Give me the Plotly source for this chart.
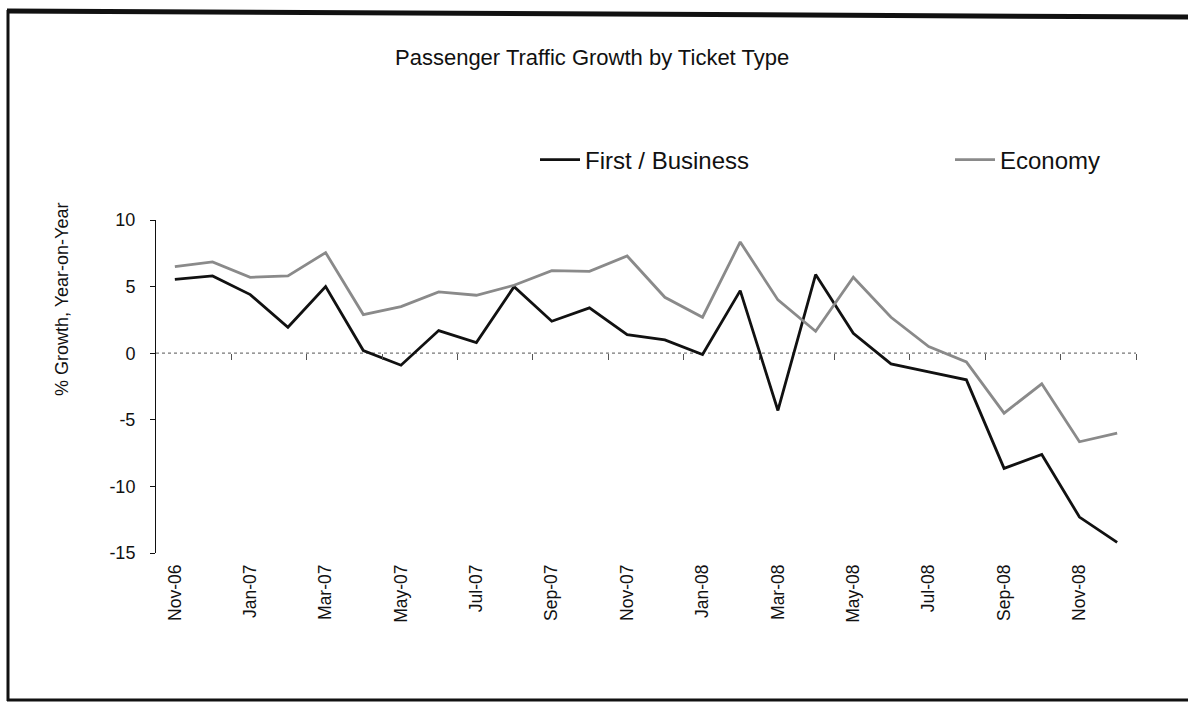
import plotly.graph_objects as go

months = ["Nov-06", "Dec-06", "Jan-07", "Feb-07", "Mar-07", "Apr-07", "May-07", "Jun-07",
          "Jul-07", "Aug-07", "Sep-07", "Oct-07", "Nov-07", "Dec-07", "Jan-08", "Feb-08",
          "Mar-08", "Apr-08", "May-08", "Jun-08", "Jul-08", "Aug-08", "Sep-08", "Oct-08",
          "Nov-08", "Dec-08"]
first_business = [5.55, 5.8, 4.4, 1.95, 5.0, 0.2, -0.9, 1.7, 0.8, 5.0, 2.4, 3.4, 1.4, 1.0,
                  -0.1, 4.7, -4.3, 5.9, 1.5, -0.8, -1.4, -2.0, -8.65, -7.6, -12.3, -14.2]
economy = [6.5, 6.85, 5.7, 5.8, 7.55, 2.9, 3.5, 4.6, 4.35, 5.1, 6.2, 6.15, 7.3, 4.2,
           2.7, 8.35, 4.0, 1.65, 5.7, 2.7, 0.5, -0.65, -4.5, -2.3, -6.65, -6.0]
tick_labels = months[::2]
y_ticks = [-15, -10, -5, 0, 5, 10]
y_tick_text = ["-15", "-10", "-5", "0", "5", "10"]

FONT = "Liberation Sans, Arial, sans-serif"

# plot area in pixels
L, R, T, B = 156, 1136, 220, 553
W, H = 1188, 708
pw, ph = R - L, B - T


def px(x):
    return (x - L) / pw


def py(y):
    return (B - y) / ph


fig = go.Figure()
fig.add_trace(go.Scatter(x=months, y=first_business, mode="lines", name="First / Business",
                         legend="legend", line=dict(color="#111111", width=2.8)))
fig.add_trace(go.Scatter(x=months, y=economy, mode="lines", name="Economy",
                         legend="legend2", line=dict(color="#8a8a8a", width=2.8)))

legend_common = dict(orientation="h", xanchor="left", yanchor="middle",
                     font=dict(size=24, family=FONT, color="#111111"),
                     itemwidth=40, bgcolor="rgba(0,0,0,0)")

fig.update_layout(
    width=W, height=H,
    margin=dict(l=L, r=W - R, t=T, b=H - B),
    paper_bgcolor="white", plot_bgcolor="white",
    font=dict(family=FONT, size=16, color="#111111"),
    showlegend=True,
    legend=dict(x=px(535), y=py(160), **legend_common),
    legend2=dict(x=px(950), y=py(160), **legend_common),
    xaxis=dict(type="category", range=[-0.5, 25.5], tickmode="array",
               tickvals=tick_labels, ticktext=tick_labels, tickangle=-90,
               ticks="", showline=False, showgrid=False, zeroline=False,
               tickfont=dict(size=17.5, family=FONT, color="#111111"), ticklabelstandoff=7),
    xaxis2=dict(overlaying="x", anchor="free", position=0.6, range=[-0.5, 25.5],
                tickmode="array", tickvals=[i + 0.5 for i in range(1, 26, 2)],
                ticks="outside", ticklen=6, tickcolor="#555555", tickwidth=1,
                showticklabels=False, showline=False, showgrid=False, zeroline=False),
    yaxis=dict(range=[-15, 10], tickmode="array", tickvals=y_ticks, ticktext=y_tick_text,
               ticks="outside", ticklen=5, tickcolor="#111111", showline=True,
               linecolor="#111111", linewidth=1, showgrid=False, zeroline=False,
               tickfont=dict(size=18, family=FONT, color="#111111"), ticklabelstandoff=11),
)

# dotted zero reference line
fig.add_shape(type="line", xref="x2", yref="y", x0=-0.5, x1=25.5, y0=0, y1=0,
              line=dict(color="#777777", width=1.2, dash="dot"), layer="below")

# title and y-axis title
fig.add_annotation(text="Passenger Traffic Growth by Ticket Type", xref="paper", yref="paper",
                   x=px(592), y=py(57), xanchor="center", yanchor="middle", showarrow=False,
                   font=dict(size=22, family=FONT, color="#111111"))
fig.add_annotation(text="% Growth, Year-on-Year", xref="paper", yref="paper",
                   x=px(62), y=py(300), xanchor="center", yanchor="middle",
                   textangle=-90, showarrow=False,
                   font=dict(size=18, family=FONT, color="#111111"))

# outer frame
fig.add_shape(type="line", xref="paper", yref="paper", x0=px(7), x1=px(1188), y0=py(11), y1=py(17),
              line=dict(color="#111111", width=5))
fig.add_shape(type="line", xref="paper", yref="paper", x0=px(8), x1=px(8), y0=py(10), y1=py(701),
              line=dict(color="#111111", width=3))
fig.add_shape(type="line", xref="paper", yref="paper", x0=px(7), x1=px(1188), y0=py(700), y1=py(700),
              line=dict(color="#111111", width=3))

fig.write_html("out.html", config={"displayModeBar": False},
               post_script="document.body.style.margin='0';")
